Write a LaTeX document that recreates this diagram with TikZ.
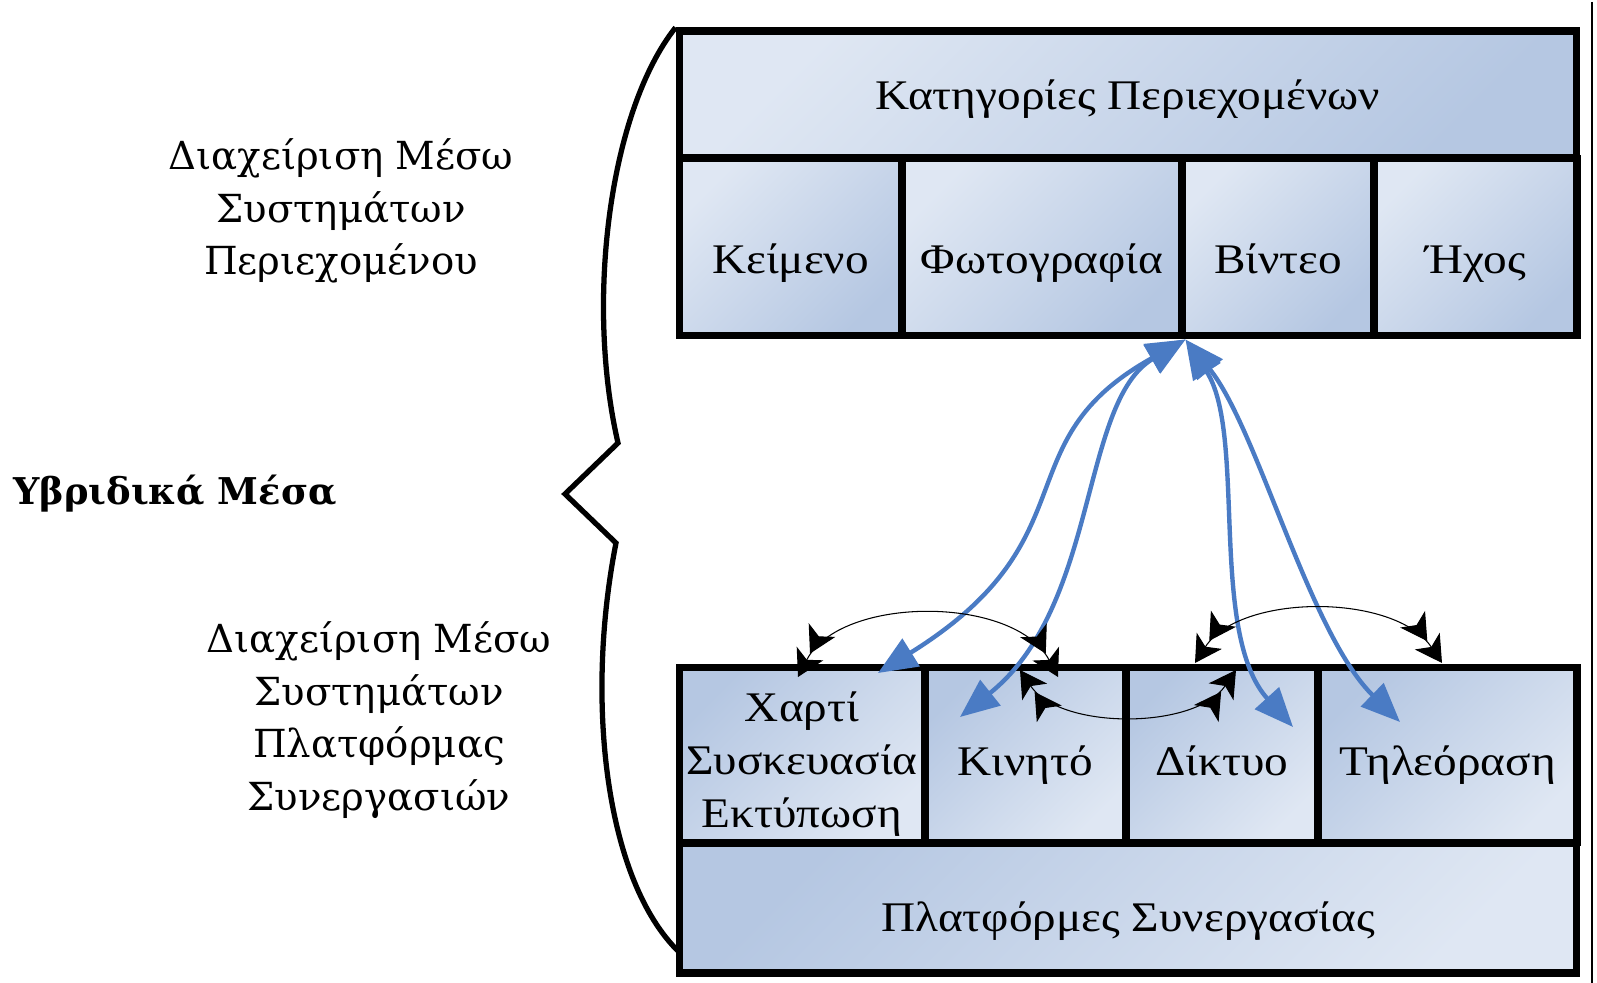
\documentclass[tikz,border=0pt]{standalone}
\usepackage{fontspec}
\setmainfont{Liberation Serif}
\newfontfamily\boxfont{Liberation Serif}[FakeStretch=1.12]
\newfontfamily\sidefont{DejaVu Serif}
\usetikzlibrary{arrows.meta}
\definecolor{boxlight}{HTML}{DFE7F3}
\definecolor{boxdark}{HTML}{B5C7E2}
\definecolor{linkblue}{HTML}{4A7BC4}

\begin{document}
\begin{tikzpicture}[x=0.02cm, y=-0.02cm,
  cell/.style={draw, line width=4pt, inner sep=0pt, font=\boxfont\fontsize{24}{30}\selectfont},
  lowtext/.style={text height=#1, text depth=6pt},
  upshade/.style={top color=boxlight, bottom color=boxdark, shading angle=45},
  downshade/.style={top color=boxdark, bottom color=boxlight, shading angle=45},
  side/.style={align=center, font=\sidefont\fontsize{22}{30}\selectfont},
  link/.style={linkblue, line width=2.5pt, arrows={Triangle[length=0.78cm,width=0.64cm]-Triangle[length=0.78cm,width=0.64cm]}},
  swaparc/.style={line width=0.6pt, arrows={Stealth[length=15pt,width=17pt,inset=4pt]Stealth[length=15pt,width=17pt,inset=4pt]-Stealth[length=15pt,width=17pt,inset=4pt]Stealth[length=15pt,width=17pt,inset=4pt]}}]
  \useasboundingbox (0,0) rectangle (1597,983);

  \node[cell, upshade, lowtext=23.6pt, minimum width=17.96cm, minimum height=2.54cm] (kat) at (1128,94.5) {Κατηγορίες Περιεχομένων};
  \node[cell, upshade, lowtext=35.6pt, minimum width=4.46cm, minimum height=3.56cm] (keimeno) at (790.5,247) {Κείμενο};
  \node[cell, upshade, lowtext=35.6pt, minimum width=5.6cm, minimum height=3.56cm] (foto) at (1042,247) {Φωτογραφία};
  \node[cell, upshade, lowtext=35.6pt, minimum width=3.84cm, minimum height=3.56cm] (vinteo) at (1278,247) {Βίντεο};
  \node[cell, upshade, lowtext=35.6pt, minimum width=4.06cm, minimum height=3.56cm] (ichos) at (1475.5,247) {Ήχος};

  \node[cell, downshade, minimum width=4.92cm, minimum height=3.52cm,
    label={[align=center, font=\boxfont\fontsize{24}{30}\selectfont, yshift=-0.18cm]center:Χαρτί\\Συσκευασία\\Εκτύπωση}] (xarti) at (802,755) {};
  \node[cell, downshade, lowtext=29.8pt, minimum width=4.02cm, minimum height=3.52cm] (kinito) at (1025.5,755) {Κινητό};
  \node[cell, downshade, lowtext=29.8pt, minimum width=3.84cm, minimum height=3.52cm] (diktyo) at (1222,755) {Δίκτυο};
  \node[cell, downshade, lowtext=29.8pt, minimum width=5.18cm, minimum height=3.52cm] (tileorasi) at (1447.5,755) {Τηλεόραση};
  \node[cell, downshade, lowtext=33.2pt, minimum width=17.96cm, minimum height=2.6cm] (platf) at (1128,908) {Πλατφόρμες Συνεργασίας};

  \node[side] (cms) at (341,211) {Διαχείριση Μέσω\\Συστημάτων\\Περιεχομένου};
  \node[side, font=\sidefont\bfseries\fontsize{21}{30}\selectfont] (hybrid) at (175,494) {Υβριδικά Μέσα};
  \node[side] (pms) at (379,720) {Διαχείριση Μέσω\\Συστημάτων\\Πλατφόρμας\\Συνεργασιών};

  \draw[line width=3pt] (kat.north west) .. controls (610,110) and (585,300) .. (618,443) -- (565,494) -- (616,543) .. controls (585,700) and (605,880) .. (679,952);
  \draw[line width=1.2pt] (1592,2) -- (1592,983);

  \coordinate (xartiend) at (878,673);
  \coordinate (kinitoend) at (960,717);
  \coordinate (diktyoend) at (1293,727);
  \coordinate (tvend) at (1400,722);
  \draw[link] (foto.south east) .. controls (1001,442) and (1095,538) .. (xartiend);
  \draw[link] (foto.south east) .. controls (1080,402) and (1099,606) .. (kinitoend);
  \draw[link] (foto.south east) .. controls (1247,433) and (1208,633) .. (diktyoend);
  \draw[link] (foto.south east) .. controls (1257,427) and (1309,633) .. (tvend);

  \coordinate (xartitop) at (798,677);
  \coordinate (kinitotop) at (1058,677);
  \coordinate (kinitomid) at (1020,670);
  \coordinate (diktyomid) at (1236,670);
  \coordinate (diktyotop) at (1195,663);
  \coordinate (tvtop) at (1442,663);
  \draw[swaparc] (xartitop) .. controls (840,595) and (1015,595) .. (kinitotop);
  \draw[swaparc] (kinitomid) .. controls (1060,730) and (1195,730) .. (diktyomid);
  \draw[swaparc] (diktyotop) .. controls (1240,593) and (1395,593) .. (tvtop);
\end{tikzpicture}
\end{document}
